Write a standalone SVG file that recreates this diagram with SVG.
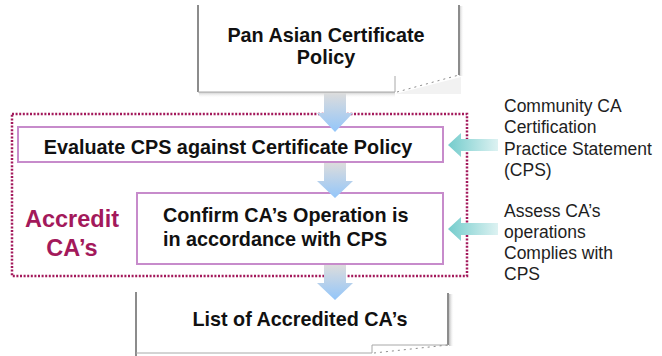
<svg xmlns="http://www.w3.org/2000/svg" width="662" height="356" viewBox="0 0 662 356">
<defs>
<linearGradient id="down" x1="0" y1="0" x2="0" y2="1">
<stop offset="0" stop-color="#DCDCDC"/>
<stop offset="1" stop-color="#93C6FA"/>
</linearGradient>
<linearGradient id="left" x1="0" y1="0" x2="1" y2="0">
<stop offset="0" stop-color="#74CCCC"/>
<stop offset="1" stop-color="#DDF2F2"/>
</linearGradient>
<linearGradient id="shadowV" x1="0" y1="0" x2="0" y2="1">
<stop offset="0" stop-color="#C8C8C8"/>
<stop offset="1" stop-color="#FFFFFF" stop-opacity="0"/>
</linearGradient>
<linearGradient id="shadowH" x1="0" y1="0" x2="1" y2="0">
<stop offset="0" stop-color="#BDBDBD"/>
<stop offset="1" stop-color="#FFFFFF" stop-opacity="0"/>
</linearGradient>
</defs>
<style>
.node{font-family:"Liberation Sans",Arial,sans-serif;font-weight:bold;font-size:19.8px;fill:#111}
.side{font-family:"Liberation Sans",Arial,sans-serif;font-size:17.5px;fill:#1e1e1e}
.acc{font-family:"Liberation Sans",Arial,sans-serif;font-weight:bold;font-size:23.5px;fill:#A3195B}
.edge{stroke:#8C8C8C;stroke-width:2;fill:none}
.thin{stroke:#A8A8A8;stroke-width:1;fill:none}
.dash{stroke:#8C8C8C;stroke-width:1;stroke-dasharray:2 4;fill:none}
.pbox{fill:#fff;stroke:#C78BCB;stroke-width:2}
</style>
<rect width="662" height="356" fill="#fff"/>

<g id="accredit-group">
<rect x="12" y="114" width="455" height="162" fill="none" stroke="#A3195B" stroke-width="2.5" stroke-dasharray="2 1.6"/>
<text class="acc" x="72" y="227" text-anchor="middle">Accredit</text>
<text class="acc" x="72" y="256" text-anchor="middle">CA’s</text>
</g>

<g id="pan-asian-policy">
<rect x="199" y="92" width="196" height="6" fill="url(#shadowV)"/>
<rect x="459" y="6" width="5" height="70" fill="url(#shadowH)"/>
<path d="M395,94 L461,77 L461,94 Z" fill="#F2F2F2"/>
<path d="M198,5 L198,92 L395,92 L459,75 L459,5 Z" fill="#fff"/>
<line class="edge" x1="198" y1="5" x2="198" y2="92"/>
<line class="thin" x1="198" y1="92" x2="395" y2="92"/>
<line class="edge" x1="459" y1="5" x2="459" y2="75" stroke="#A0A0A0"/>
<line class="thin" x1="395" y1="76" x2="395" y2="92"/>
<line class="dash" x1="397" y1="92" x2="459" y2="75"/>
<text class="node" x="326" y="42" text-anchor="middle">Pan Asian Certificate</text>
<text class="node" x="326" y="64" text-anchor="middle">Policy</text>
</g>

<g id="evaluate-cps">
<rect class="pbox" x="18" y="127" width="425" height="35"/>
<text class="node" x="228" y="154" text-anchor="middle">Evaluate CPS against Certificate Policy</text>
</g>

<g id="confirm-operation">
<rect class="pbox" x="137" y="193" width="306" height="71"/>
<text class="node" x="163" y="222">Confirm CA’s Operation is</text>
<text class="node" x="163" y="246">in accordance with CPS</text>
</g>

<g id="list-accredited">
<rect x="137" y="352" width="235" height="6" fill="url(#shadowV)"/>
<rect x="449" y="294" width="5" height="52" fill="url(#shadowH)"/>
<path d="M136,292 L136,360 L372,360 L372,353 L448,345 L448,292 Z" fill="#fff"/>
<line class="edge" x1="136" y1="292" x2="136" y2="360"/>
<line class="edge" x1="448" y1="293" x2="448" y2="345" stroke="#A0A0A0"/>
<line class="thin" x1="372" y1="345" x2="448" y2="345"/>
<line class="thin" x1="372" y1="345" x2="372" y2="353"/>
<line class="dash" x1="374" y1="353" x2="448" y2="345"/>
<line class="thin" x1="136" y1="353" x2="372" y2="353" stroke="#D8D8D8"/>
<text class="node" x="300" y="326" text-anchor="middle">List of Accredited CA’s</text>
</g>

<g id="community-cps">
<text class="side" x="504" y="112">Community CA</text>
<text class="side" x="504" y="133">Certification</text>
<text class="side" x="504" y="155">Practice Statement</text>
<text class="side" x="504" y="176">(CPS)</text>
</g>

<g id="assess-operations">
<text class="side" x="504" y="217">Assess CA’s</text>
<text class="side" x="504" y="238">operations</text>
<text class="side" x="504" y="259">Complies with</text>
<text class="side" x="504" y="280">CPS</text>
</g>

<g id="connectors">
<path d="M324,93 L346,93 L346,113 L353,113 L335,132 L317,113 L324,113 Z" fill="url(#down)"/>
<path d="M324,163 L346,163 L346,181 L353,181 L335,198 L317,181 L324,181 Z" fill="url(#down)"/>
<path d="M324,265 L346,265 L346,283 L353,283 L335,300 L317,283 L324,283 Z" fill="url(#down)"/>
<path d="M448,145 L461,133 L461,139 L498,139 L498,151 L461,151 L461,157 Z" fill="url(#left)"/>
<path d="M448,229 L461,217 L461,223 L498,223 L498,235 L461,235 L461,241 Z" fill="url(#left)"/>
</g>
</svg>
